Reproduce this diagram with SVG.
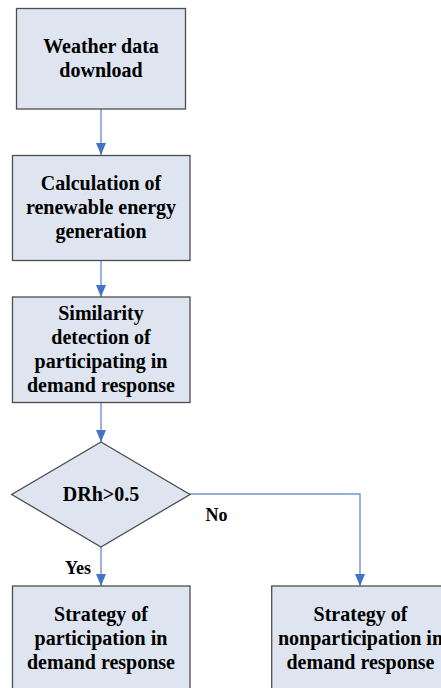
<svg xmlns="http://www.w3.org/2000/svg" width="441" height="688" viewBox="0 0 441 688">
<defs>
<marker id="ah" markerWidth="12" markerHeight="10" refX="12" refY="5" orient="auto" markerUnits="userSpaceOnUse">
<path d="M0,0 L12,5 L0,10 Z" fill="#4472c4"/>
</marker>
<style>
.node{fill:#dee5f0;stroke:#4d4d4d;stroke-width:1.3}
.t{font-family:"Liberation Serif","Times New Roman",serif;font-weight:bold;font-size:20px;fill:#000;text-anchor:middle}
.c{fill:none;stroke:#6f94cf;stroke-width:1.4}
</style>
</defs>
<rect width="441" height="688" fill="#fff"/>
<g id="connectors">
<line class="c" x1="101" y1="109" x2="101" y2="155" marker-end="url(#ah)"/>
<line class="c" x1="101" y1="261" x2="101" y2="297" marker-end="url(#ah)"/>
<line class="c" x1="101" y1="403" x2="101" y2="442" marker-end="url(#ah)"/>
<line class="c" x1="101" y1="547" x2="101" y2="586" marker-end="url(#ah)"/>
<polyline class="c" points="190,494 360,494 360,586" marker-end="url(#ah)"/>
<text class="t" x="216.5" y="521" style="font-size:18px">No</text>
<text class="t" x="78" y="574" style="font-size:18px">Yes</text>
</g>
<g id="n1">
<rect class="node" x="16.5" y="8.5" width="169" height="100.5"/>
<text class="t" x="101" y="52.5">Weather data</text>
<text class="t" x="101" y="76.5">download</text>
</g>
<g id="n2">
<rect class="node" x="12.5" y="155.5" width="177.5" height="105"/>
<text class="t" x="101" y="190">Calculation of</text>
<text class="t" x="101" y="214">renewable energy</text>
<text class="t" x="101" y="238">generation</text>
</g>
<g id="n3">
<rect class="node" x="12.5" y="297" width="177.5" height="105.5"/>
<text class="t" x="101" y="319.5">Similarity</text>
<text class="t" x="101" y="343.5">detection of</text>
<text class="t" x="101" y="367.5">participating in</text>
<text class="t" x="101" y="391.5">demand response</text>
</g>
<g id="n4">
<polygon class="node" points="101,442 190,494.5 101,547 11.7,494.5"/>
<text class="t" x="101" y="501">DRh&gt;0.5</text>
</g>
<g id="n5">
<rect class="node" x="12.5" y="586" width="177.5" height="110"/>
<text class="t" x="101" y="621">Strategy of</text>
<text class="t" x="101" y="645">participation in</text>
<text class="t" x="101" y="669">demand response</text>
</g>
<g id="n6">
<rect class="node" x="271.7" y="586" width="177.5" height="110"/>
<text class="t" x="360.5" y="621">Strategy of</text>
<text class="t" x="360.5" y="645">nonparticipation in</text>
<text class="t" x="360.5" y="669">demand response</text>
</g>
</svg>
